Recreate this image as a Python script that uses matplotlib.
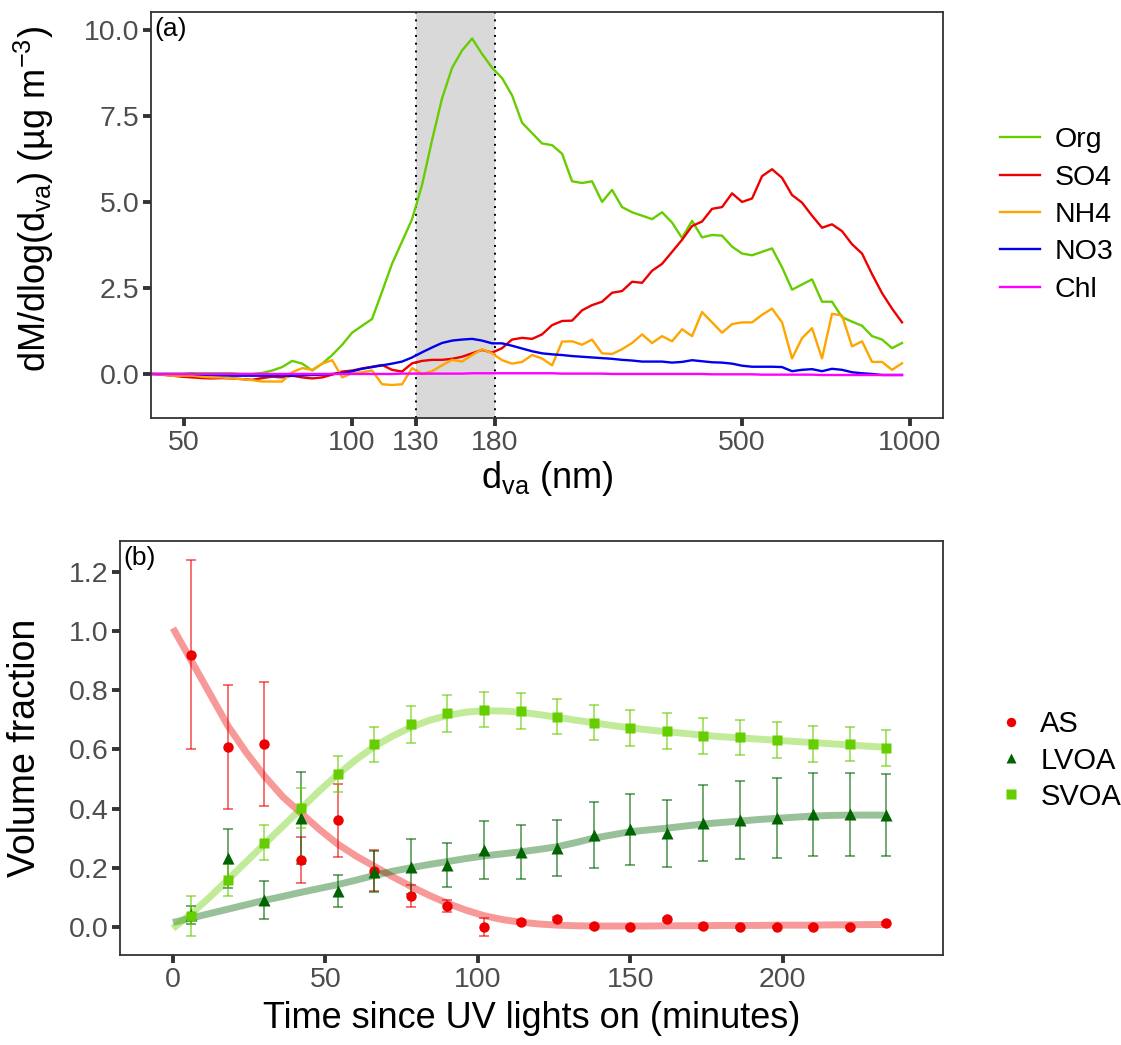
import numpy as np
import matplotlib
matplotlib.use('Agg')
import matplotlib.pyplot as plt
from matplotlib.ticker import NullLocator

plt.rcParams['font.family'] = ['Liberation Sans', 'DejaVu Sans']
plt.rcParams['mathtext.fontset'] = 'custom'
plt.rcParams['mathtext.rm'] = 'Liberation Sans'
plt.rcParams['mathtext.it'] = 'Liberation Sans:italic'

# ---- panel (a): size distributions ----
dva = [43.8, 45.6, 47.6, 49.6, 51.7, 53.8, 56.1, 58.5, 60.9, 63.5,
       66.2, 69.0, 71.9, 74.9, 78.1, 81.4, 84.8, 88.4, 92.1, 96.0,
       100.0, 104.2, 108.6, 113.2, 117.9, 122.9, 128.1, 133.5, 139.1, 144.9,
       151.1, 157.4, 164.1, 171.0, 178.2, 185.7, 193.5, 201.7, 210.2, 219.0,
       228.3, 237.9, 247.9, 258.4, 269.2, 280.6, 292.4, 304.7, 317.6, 331.0,
       344.9, 359.4, 374.6, 390.3, 406.8, 423.9, 441.8, 460.4, 479.8, 500.0,
       521.1, 543.1, 565.9, 589.8, 614.6, 640.5, 667.5, 695.6, 724.9, 755.5,
       787.3, 820.5, 855.1, 891.1, 928.6, 967.7]

org = [0.0, 0.0, 0.0, 0.0, 0.02, 0.02, 0.02, 0.02, 0.02, 0.0,
       0.0, 0.03, 0.1, 0.2, 0.38, 0.3, 0.1, 0.3, 0.55, 0.85,
       1.2, 1.4, 1.6, 2.4, 3.2, 3.85, 4.5, 5.5, 6.8, 8.0,
       8.9, 9.4, 9.75, 9.3, 8.9, 8.6, 8.1, 7.3, 7.0, 6.7,
       6.65, 6.4, 5.6, 5.55, 5.6, 5.0, 5.35, 4.85, 4.7, 4.6,
       4.5, 4.7, 4.4, 3.95, 4.45, 3.97, 4.04, 4.02, 3.7, 3.5,
       3.45, 3.55, 3.65, 3.1, 2.45, 2.6, 2.75, 2.1, 2.1, 1.65,
       1.52, 1.4, 1.1, 1.0, 0.75, 0.9]

so4 = [0.0, -0.02, -0.05, -0.08, -0.1, -0.12, -0.13, -0.12, -0.13, -0.15,
       -0.17, -0.12, -0.08, -0.1, -0.05, -0.1, -0.13, -0.1, -0.02, 0.07,
       0.1, 0.16, 0.21, 0.26, 0.12, 0.07, 0.31, 0.38, 0.41, 0.41,
       0.44, 0.5, 0.6, 0.7, 0.62, 0.75, 1.0, 1.05, 1.02, 1.15,
       1.42, 1.54, 1.55, 1.85, 2.0, 2.1, 2.36, 2.41, 2.68, 2.65,
       3.0, 3.2, 3.55, 3.9, 4.3, 4.43, 4.8, 4.85, 5.25, 5.0,
       5.1, 5.75, 5.95, 5.7, 5.2, 4.98, 4.6, 4.25, 4.35, 4.15,
       3.77, 3.5, 2.9, 2.35, 1.9, 1.5]

nh4 = [0.0, -0.02, -0.05, -0.05, -0.05, -0.08, -0.1, -0.1, -0.13, -0.15,
       -0.18, -0.22, -0.22, -0.22, 0.05, 0.17, 0.12, 0.3, 0.4, -0.1,
       0.02, 0.05, 0.1, -0.3, -0.32, -0.3, 0.17, 0.0, 0.08, 0.25,
       0.41, 0.36, 0.55, 0.72, 0.6, 0.4, 0.3, 0.35, 0.55, 0.45,
       0.25, 0.94, 0.95, 0.85, 1.0, 0.6, 0.58, 0.72, 0.9, 1.15,
       0.9, 1.1, 0.95, 1.3, 1.1, 1.8, 1.5, 1.2, 1.45, 1.5,
       1.5, 1.72, 1.9, 1.5, 0.45, 1.04, 1.33, 0.45, 1.75, 1.7,
       0.8, 0.95, 0.35, 0.35, 0.12, 0.31]

no3 = [0.0, 0.0, 0.0, 0.0, 0.0, -0.02, -0.03, -0.04, -0.05, -0.05,
       -0.05, -0.05, -0.05, -0.05, -0.05, -0.04, -0.03, -0.02, 0.0, 0.02,
       0.08, 0.15, 0.2, 0.25, 0.3, 0.36, 0.48, 0.63, 0.77, 0.9,
       0.97, 1.0, 1.02, 0.97, 0.89, 0.89, 0.82, 0.74, 0.66, 0.6,
       0.57, 0.55, 0.52, 0.5, 0.48, 0.46, 0.44, 0.41, 0.39, 0.36,
       0.36, 0.36, 0.33, 0.35, 0.4, 0.37, 0.34, 0.33, 0.3, 0.24,
       0.21, 0.21, 0.21, 0.2, 0.08, 0.12, 0.14, 0.08, 0.15, 0.12,
       0.05, 0.02, 0.0, -0.03, -0.03, -0.03]

chl = [0.0, 0.0, 0.0, 0.0, 0.0, 0.0, 0.0, 0.0, 0.0, 0.0,
       0.0, 0.0, 0.0, 0.0, 0.0, 0.0, 0.0, 0.0, 0.0, 0.0,
       0.0, 0.0, 0.0, 0.0, 0.0, 0.01, 0.01, 0.01, 0.01, 0.01,
       0.01, 0.01, 0.02, 0.02, 0.02, 0.02, 0.02, 0.02, 0.02, 0.02,
       0.02, 0.01, 0.01, 0.01, 0.01, 0.01, 0.0, 0.0, 0.0, 0.0,
       0.0, 0.0, 0.0, 0.0, 0.0, 0.0, -0.01, -0.01, -0.01, -0.01,
       -0.01, -0.02, -0.02, -0.02, -0.02, -0.02, -0.02, -0.03, -0.03, -0.03,
       -0.03, -0.03, -0.03, -0.03, -0.03, -0.03]

species = ['Org', 'SO4', 'NH4', 'NO3', 'Chl']
species_vals = [org, so4, nh4, no3, chl]
species_cols = ['#66CD00', '#EE0000', '#FFA500', '#0000EE', '#FF00FF']

xticks_a = [50, 100, 130, 180, 500, 1000]
yticks_a = [0, 2.5, 5, 7.5, 10]

# ---- panel (b): volume fractions ----
t = [6, 18, 30, 42, 54, 66, 78, 90, 102, 114, 126, 138, 150, 162, 174, 186, 198, 210, 222, 234]
as_v = [0.92, 0.607, 0.618, 0.226, 0.36, 0.19, 0.106, 0.071, 0.0, 0.018,
        0.027, 0.002, 0.0, 0.026, 0.002, 0.0, 0.0, 0.0, 0.0, 0.012]
as_sd = [0.32, 0.21, 0.21, 0.078, 0.124, 0.07, 0.037, 0.02, 0.03, 0.005,
         0.005, 0.004, 0.004, 0.005, 0.004, 0.004, 0.004, 0.004, 0.004, 0.004]
lvoa = [0.04, 0.232, 0.091, 0.369, 0.122, 0.187, 0.204, 0.209, 0.26, 0.254,
        0.266, 0.311, 0.33, 0.316, 0.352, 0.361, 0.369, 0.381, 0.381, 0.378]
lvoa_sd = [0.03, 0.1, 0.065, 0.155, 0.054, 0.07, 0.092, 0.075, 0.098, 0.092,
           0.095, 0.113, 0.121, 0.114, 0.128, 0.132, 0.135, 0.141, 0.14, 0.139]
svoa = [0.038, 0.159, 0.285, 0.401, 0.517, 0.617, 0.685, 0.722, 0.735, 0.73,
        0.711, 0.69, 0.671, 0.662, 0.645, 0.641, 0.632, 0.617, 0.618, 0.606]
svoa_sd = [0.068, 0.055, 0.06, 0.067, 0.062, 0.059, 0.063, 0.062, 0.06, 0.06,
           0.059, 0.059, 0.061, 0.06, 0.061, 0.06, 0.06, 0.061, 0.058, 0.061]

# smooth fits
t_fit = [0, 6, 12, 18, 24, 30, 36, 42, 48, 54, 60, 66, 72, 78, 84, 90, 96, 102, 108, 114,
         120, 126, 132, 138, 144, 150, 156, 162, 168, 174, 180, 186, 192, 198, 204, 210,
         216, 222, 228, 234]
as_fit = [1.01, 0.9, 0.79, 0.68, 0.59, 0.51, 0.44, 0.385, 0.33, 0.28, 0.24, 0.205, 0.17,
          0.137, 0.107, 0.08, 0.057, 0.038, 0.025, 0.016, 0.01, 0.006, 0.004, 0.003, 0.003,
          0.003, 0.003, 0.004, 0.004, 0.004, 0.005, 0.005, 0.005, 0.006, 0.006, 0.006,
          0.007, 0.007, 0.008, 0.008]
lvoa_fit = [0.015, 0.03, 0.045, 0.06, 0.075, 0.09, 0.103, 0.117, 0.13, 0.143, 0.158, 0.174,
            0.188, 0.2, 0.211, 0.221, 0.231, 0.24, 0.247, 0.254, 0.262, 0.271, 0.285, 0.3,
            0.311, 0.322, 0.328, 0.334, 0.341, 0.348, 0.353, 0.358, 0.363, 0.367, 0.371,
            0.375, 0.377, 0.378, 0.378, 0.378]
svoa_fit = [-0.005, 0.045, 0.1, 0.16, 0.22, 0.28, 0.34, 0.4, 0.46, 0.515, 0.565, 0.61, 0.645,
            0.675, 0.698, 0.715, 0.726, 0.731, 0.73, 0.726, 0.718, 0.709, 0.699, 0.69, 0.681,
            0.673, 0.666, 0.66, 0.654, 0.648, 0.643, 0.639, 0.635, 0.631, 0.627, 0.623,
            0.619, 0.615, 0.611, 0.607]

xticks_b = [0, 50, 100, 150, 200]
yticks_b = [0.0, 0.2, 0.4, 0.6, 0.8, 1.0, 1.2]

tick_col = '#4D4D4D'
frame_col = '#333333'

fig = plt.figure(figsize=(11.21, 10.45), dpi=100)


def style_axes(ax):
    for s in ax.spines.values():
        s.set_color(frame_col)
        s.set_linewidth(1.3)
    ax.tick_params(axis='both', which='major', length=5.5, width=2.8, color=frame_col,
                   labelcolor=tick_col, labelsize=20.5, pad=3)


# panel (a)
ax1 = fig.add_axes([0.1347, 0.6, 0.7065, 0.3885])
ax1.set_xscale('log')
ax1.axvspan(130, 180, color='#D9D9D9', lw=0, zorder=0)
ax1.axvline(130, color='black', ls=(0, (1, 3)), lw=1.4, zorder=1)
ax1.axvline(180, color='black', ls=(0, (1, 3)), lw=1.4, zorder=1)
for name, vals, col in zip(species, species_vals, species_cols):
    ax1.plot(dva, vals, color=col, lw=1.7, label=name, zorder=2)
ax1.set_xlim(43.6, 1146)
ax1.set_ylim(-1.28, 10.52)
ax1.set_xticks(xticks_a)
ax1.set_xticklabels([str(v) for v in xticks_a])
ax1.xaxis.set_minor_locator(NullLocator())
ax1.set_yticks(yticks_a)
ax1.set_yticklabels(['%.1f' % v for v in yticks_a])
style_axes(ax1)
ax1.set_xlabel(r'd$_{\mathrm{va}}$ (nm)', fontsize=26)
ax1.set_ylabel(r'dM/dlog(d$_{\mathrm{va}}$) (µg m$^{-3}$)', fontsize=26)
ax1.xaxis.set_label_coords(0.5, -0.1)
ax1.yaxis.set_label_coords(-0.12, 0.54)
ax1.text(0.004, 0.988, '(a)', transform=ax1.transAxes, ha='left', va='top', fontsize=19)
ax1.legend(loc='center left', bbox_to_anchor=(1.04, 0.5), frameon=False, fontsize=20.5,
           handlelength=1.4, handletextpad=0.5, labelspacing=0.4)

# panel (b)
ax2 = fig.add_axes([0.107, 0.0861, 0.734, 0.396])
ax2.plot(t_fit, as_fit, color='#EE0000', lw=5, alpha=0.4, solid_capstyle='butt', zorder=1)
ax2.plot(t_fit, lvoa_fit, color='#006400', lw=5, alpha=0.4, solid_capstyle='butt', zorder=1)
ax2.plot(t_fit, svoa_fit, color='#66CD00', lw=5, alpha=0.4, solid_capstyle='butt', zorder=1)
ax2.errorbar(t, as_v, yerr=as_sd, fmt='none', ecolor='#EE0000', elinewidth=1.2,
             capsize=3.5, capthick=1.2, alpha=0.65, zorder=2)
ax2.errorbar(t, lvoa, yerr=lvoa_sd, fmt='none', ecolor='#006400', elinewidth=1.2,
             capsize=3.5, capthick=1.2, alpha=0.65, zorder=2)
ax2.errorbar(t, svoa, yerr=svoa_sd, fmt='none', ecolor='#66CD00', elinewidth=1.2,
             capsize=3.5, capthick=1.2, alpha=0.65, zorder=2)
ax2.plot(t, as_v, 'o', color='#EE0000', ms=7.5, mec='none', label='AS', zorder=3)
ax2.plot(t, lvoa, '^', color='#006400', ms=8.5, mec='none', label='LVOA', zorder=3)
ax2.plot(t, svoa, 's', color='#66CD00', ms=7.5, mec='none', label='SVOA', zorder=3)
ax2.set_xlim(-17.4, 252.5)
ax2.set_ylim(-0.095, 1.304)
ax2.set_xticks(xticks_b)
ax2.set_yticks(yticks_b)
ax2.set_yticklabels(['%.1f' % v for v in yticks_b])
style_axes(ax2)
ax2.set_xlabel('Time since UV lights on (minutes)', fontsize=26)
ax2.set_ylabel('Volume fraction', fontsize=27)
ax2.xaxis.set_label_coords(0.5, -0.11)
ax2.yaxis.set_label_coords(-0.093, 0.5)
ax2.text(0.004, 0.988, '(b)', transform=ax2.transAxes, ha='left', va='top', fontsize=19)
ax2.legend(loc='center left', bbox_to_anchor=(1.037, 0.47), frameon=False, fontsize=21,
           handlelength=0.8, handletextpad=0.6, labelspacing=0.28, markerscale=0.9)

fig.savefig('out.png', dpi=100)
